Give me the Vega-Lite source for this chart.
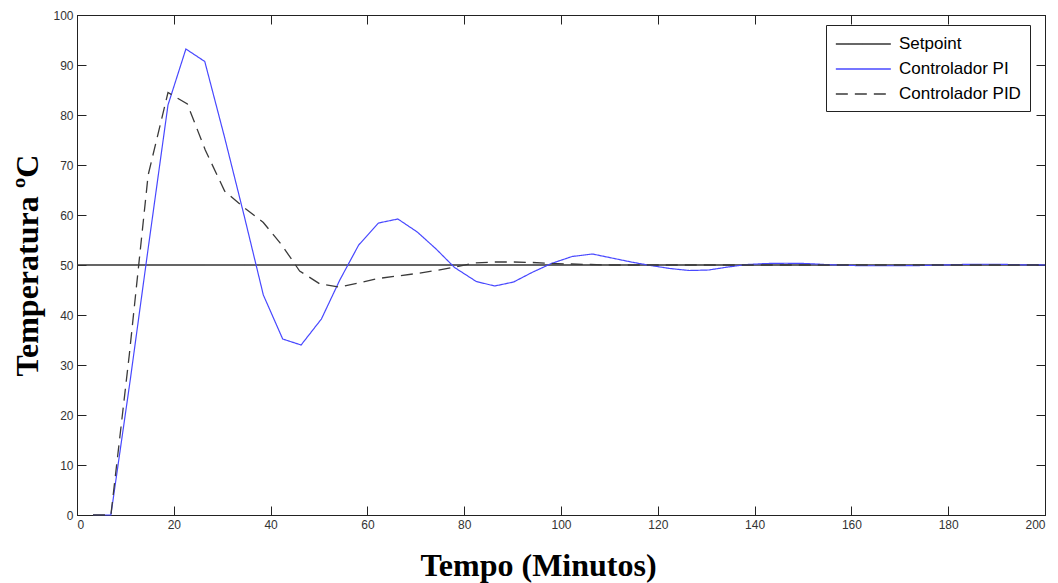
{
  "$schema": "https://vega.github.io/schema/vega-lite/v6.json",
  "width": 968,
  "height": 500,
  "autosize": {"type": "none"},
  "padding": {"left": 77, "top": 15, "right": 13, "bottom": 68},
  "background": "white",
  "config": {
    "view": {"stroke": "#222", "strokeWidth": 1},
    "axis": {
      "grid": false,
      "domainColor": "#222",
      "tickColor": "#222",
      "tickSize": -9,
      "labelPadding": 13,
      "labelFont": "Liberation Sans Narrow, Liberation Sans, Arial",
      "labelFontSize": 12,
      "labelColor": "#333",
      "titleFont": "Liberation Serif",
      "titleFontWeight": "bold",
      "titleFontSize": 32,
      "titleColor": "#000"
    }
  },
  "data": {
    "values": [
      {"t": 0, "v": 50, "s": "Setpoint"},
      {"t": 200, "v": 50, "s": "Setpoint"},
      {"t": 3.3, "v": 0, "s": "Controlador PI"},
      {"t": 7.0, "v": 0, "s": "Controlador PI"},
      {"t": 11.0, "v": 27, "s": "Controlador PI"},
      {"t": 14.8, "v": 54, "s": "Controlador PI"},
      {"t": 18.8, "v": 82, "s": "Controlador PI"},
      {"t": 22.5, "v": 93.2, "s": "Controlador PI"},
      {"t": 26.4, "v": 90.7, "s": "Controlador PI"},
      {"t": 30.5, "v": 75.5, "s": "Controlador PI"},
      {"t": 34.5, "v": 60, "s": "Controlador PI"},
      {"t": 38.5, "v": 44, "s": "Controlador PI"},
      {"t": 42.5, "v": 35.2, "s": "Controlador PI"},
      {"t": 46.3, "v": 34, "s": "Controlador PI"},
      {"t": 50.5, "v": 39.2, "s": "Controlador PI"},
      {"t": 54.3, "v": 47, "s": "Controlador PI"},
      {"t": 58.2, "v": 54, "s": "Controlador PI"},
      {"t": 62.3, "v": 58.4, "s": "Controlador PI"},
      {"t": 66.3, "v": 59.2, "s": "Controlador PI"},
      {"t": 70.3, "v": 56.6, "s": "Controlador PI"},
      {"t": 74.2, "v": 53.2, "s": "Controlador PI"},
      {"t": 78.0, "v": 49.5, "s": "Controlador PI"},
      {"t": 82.5, "v": 46.7, "s": "Controlador PI"},
      {"t": 86.3, "v": 45.8, "s": "Controlador PI"},
      {"t": 90.2, "v": 46.6, "s": "Controlador PI"},
      {"t": 94.0, "v": 48.5, "s": "Controlador PI"},
      {"t": 98.0, "v": 50.3, "s": "Controlador PI"},
      {"t": 102.3, "v": 51.7, "s": "Controlador PI"},
      {"t": 106.5, "v": 52.2, "s": "Controlador PI"},
      {"t": 110.5, "v": 51.4, "s": "Controlador PI"},
      {"t": 114.5, "v": 50.6, "s": "Controlador PI"},
      {"t": 118.5, "v": 49.9, "s": "Controlador PI"},
      {"t": 122.5, "v": 49.3, "s": "Controlador PI"},
      {"t": 126.5, "v": 48.9, "s": "Controlador PI"},
      {"t": 130.5, "v": 49.0, "s": "Controlador PI"},
      {"t": 134.5, "v": 49.6, "s": "Controlador PI"},
      {"t": 138.5, "v": 50.1, "s": "Controlador PI"},
      {"t": 142.5, "v": 50.3, "s": "Controlador PI"},
      {"t": 146.5, "v": 50.35, "s": "Controlador PI"},
      {"t": 150.5, "v": 50.3, "s": "Controlador PI"},
      {"t": 154.5, "v": 50.1, "s": "Controlador PI"},
      {"t": 158.5, "v": 49.95, "s": "Controlador PI"},
      {"t": 162.5, "v": 49.85, "s": "Controlador PI"},
      {"t": 166.5, "v": 49.85, "s": "Controlador PI"},
      {"t": 170.5, "v": 49.85, "s": "Controlador PI"},
      {"t": 174.5, "v": 49.9, "s": "Controlador PI"},
      {"t": 178.5, "v": 50.0, "s": "Controlador PI"},
      {"t": 182.5, "v": 50.1, "s": "Controlador PI"},
      {"t": 186.5, "v": 50.15, "s": "Controlador PI"},
      {"t": 190.5, "v": 50.15, "s": "Controlador PI"},
      {"t": 194.5, "v": 50.05, "s": "Controlador PI"},
      {"t": 200, "v": 50, "s": "Controlador PI"},
      {"t": 3.3, "v": 0, "s": "Controlador PID"},
      {"t": 7.0, "v": 0, "s": "Controlador PID"},
      {"t": 10.8, "v": 32, "s": "Controlador PID"},
      {"t": 14.7, "v": 68, "s": "Controlador PID"},
      {"t": 18.8, "v": 84.5, "s": "Controlador PID"},
      {"t": 22.8, "v": 82.2, "s": "Controlador PID"},
      {"t": 26.5, "v": 73, "s": "Controlador PID"},
      {"t": 30.5, "v": 64.8, "s": "Controlador PID"},
      {"t": 34.5, "v": 61.5, "s": "Controlador PID"},
      {"t": 38.5, "v": 58.5, "s": "Controlador PID"},
      {"t": 42.3, "v": 54, "s": "Controlador PID"},
      {"t": 46.0, "v": 48.8, "s": "Controlador PID"},
      {"t": 50.2, "v": 46.2, "s": "Controlador PID"},
      {"t": 54.2, "v": 45.6, "s": "Controlador PID"},
      {"t": 58.2, "v": 46.4, "s": "Controlador PID"},
      {"t": 62.2, "v": 47.3, "s": "Controlador PID"},
      {"t": 66.2, "v": 47.8, "s": "Controlador PID"},
      {"t": 70.2, "v": 48.3, "s": "Controlador PID"},
      {"t": 74.2, "v": 48.9, "s": "Controlador PID"},
      {"t": 78.2, "v": 49.6, "s": "Controlador PID"},
      {"t": 82.2, "v": 50.4, "s": "Controlador PID"},
      {"t": 86.2, "v": 50.6, "s": "Controlador PID"},
      {"t": 90.2, "v": 50.6, "s": "Controlador PID"},
      {"t": 94.2, "v": 50.5, "s": "Controlador PID"},
      {"t": 98.2, "v": 50.3, "s": "Controlador PID"},
      {"t": 102.2, "v": 50.2, "s": "Controlador PID"},
      {"t": 106.2, "v": 50.1, "s": "Controlador PID"},
      {"t": 110.2, "v": 50.0, "s": "Controlador PID"},
      {"t": 200, "v": 50, "s": "Controlador PID"}
    ]
  },
  "layer": [
    {
      "transform": [{"filter": "datum.s === 'Setpoint'"}],
      "mark": {"type": "line", "strokeWidth": 1.3},
      "encoding": {
        "x": {"field": "t", "type": "quantitative", "scale": {"domain": [0, 200], "nice": false},
              "axis": {"values": [0,20,40,60,80,100,120,140,160,180,200], "title": "Tempo (Minutos)", "titleX": 461, "titlePadding": 20}},
        "y": {"field": "v", "type": "quantitative", "scale": {"domain": [0, 100], "nice": false},
              "axis": {"values": [0,10,20,30,40,50,60,70,80,90,100], "title": "Temperatura  ºC", "titlePadding": 8}},
        "color": {"field": "s", "type": "nominal",
                  "scale": {"domain": ["Setpoint", "Controlador PI", "Controlador PID"], "range": ["#333333", "#4848ff", "#3a3a3a"]},
                  "legend": {"title": null, "orient": "none", "legendX": 749, "legendY": 10, "strokeColor": "#222", "fillColor": "white", "padding": 9, "symbolType": "M-1,0H5", "symbolSize": 336, "symbolStrokeWidth": 1.3, "labelFont": "Liberation Sans, Arial", "labelFontSize": 17, "labelColor": "#000", "rowPadding": 7, "labelOffset": 44}},
        "strokeDash": {"field": "s", "type": "nominal",
                  "scale": {"domain": ["Setpoint", "Controlador PI", "Controlador PID"], "range": [[1, 0], [1, 0], [12, 7]]},
                  "legend": {"title": null, "orient": "none", "legendX": 749, "legendY": 10, "strokeColor": "#222", "fillColor": "white", "padding": 9, "symbolType": "M-1,0H5", "symbolSize": 336, "symbolStrokeWidth": 1.3, "labelFont": "Liberation Sans, Arial", "labelFontSize": 17, "labelColor": "#000", "rowPadding": 7, "labelOffset": 44}}
      }
    },
    {
      "transform": [{"filter": "datum.s === 'Controlador PI'"}],
      "mark": {"type": "line", "strokeWidth": 1.2},
      "encoding": {
        "x": {"field": "t", "type": "quantitative", "axis": null},
        "y": {"field": "v", "type": "quantitative", "axis": null},
        "color": {"field": "s", "type": "nominal"},
        "strokeDash": {"field": "s", "type": "nominal"}
      }
    },
    {
      "transform": [{"filter": "datum.s === 'Controlador PID'"}],
      "mark": {"type": "line", "strokeWidth": 1.3},
      "encoding": {
        "x": {"field": "t", "type": "quantitative", "axis": null},
        "y": {"field": "v", "type": "quantitative", "axis": null},
        "color": {"field": "s", "type": "nominal"},
        "strokeDash": {"field": "s", "type": "nominal"}
      }
    },
    {
      "transform": [{"filter": "datum.s === 'Setpoint'"}],
      "mark": {"type": "line", "opacity": 0},
      "encoding": {
        "x": {"field": "t", "type": "quantitative",
              "axis": {"orient": "top", "labels": false, "title": null, "values": [0,20,40,60,80,100,120,140,160,180,200]}},
        "y": {"field": "v", "type": "quantitative",
              "axis": {"orient": "right", "labels": false, "title": null, "values": [0,10,20,30,40,50,60,70,80,90,100]}}
      }
    }
  ],
  "resolve": {"axis": {"x": "independent", "y": "independent"}}
}
